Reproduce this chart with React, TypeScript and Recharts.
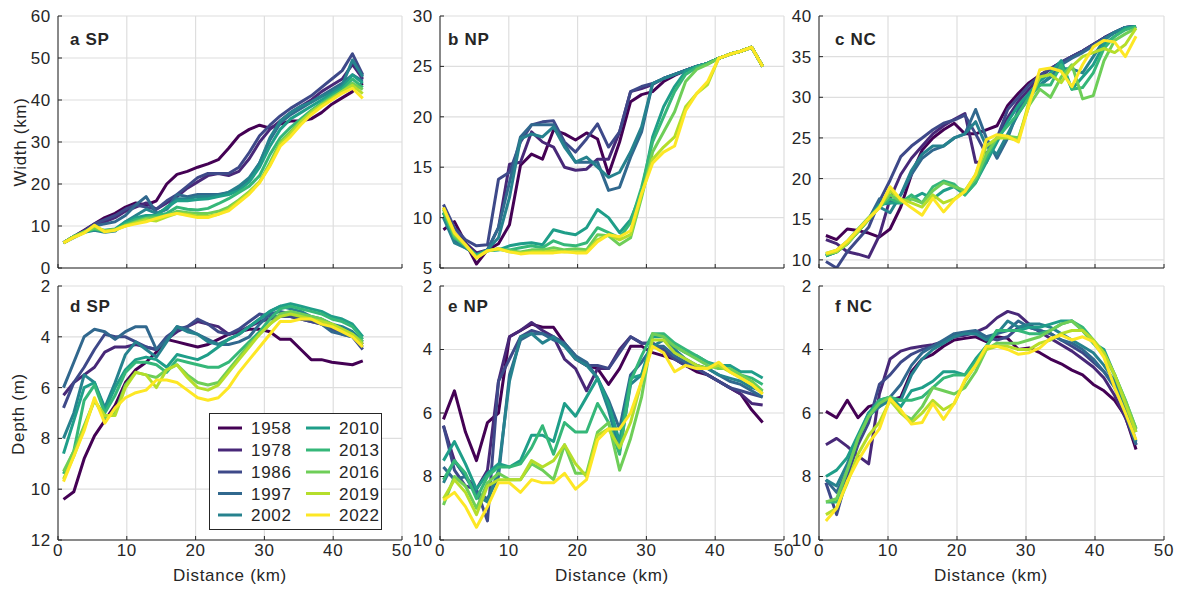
import React from "react";
import { CartesianGrid, Line, LineChart, XAxis, YAxis } from "recharts";

// Six small-multiple panels: channel width (top) and depth (bottom) along the
// estuary for three reaches, one viridis line per survey year.
const INK = "#262626";
const GRID = "#dedede";
const FONT = "'Liberation Sans', Arial, Helvetica, sans-serif";
const TICK = 4;
const SPACING = 0.7;
const LINE_W = 3;

const YEARS = ["1958", "1978", "1986", "1997", "2002", "2010", "2013", "2016", "2019", "2022"];
const VIRIDIS = [
  "#440154", "#482878", "#3e4989", "#31688e", "#26828e",
  "#1f9e89", "#35b779", "#6ece58", "#b5de2b", "#fde725",
];

const DIST_TICKS = [0, 10, 20, 30, 40, 50];

// distance along channel (km) for each reach
const distSP = [0.8, 2.3, 3.8, 5.3, 6.8, 8.3, 9.8, 11.3, 12.8, 14.3, 15.8, 17.3, 18.8, 20.3, 21.8, 23.3, 24.8, 26.3, 27.8, 29.3, 30.8, 32.3, 33.8, 35.3, 36.8, 38.3, 39.8, 41.3, 42.8, 44.3];
const distNP = [0.5, 2.1, 3.7, 5.3, 6.9, 8.5, 10.1, 11.7, 13.3, 14.9, 16.5, 18.1, 19.7, 21.3, 22.9, 24.5, 26.1, 27.7, 29.3, 30.9, 32.5, 34.1, 35.7, 37.3, 38.9, 40.5, 42.1, 43.7, 45.3, 46.9];
const distNC = [1.0, 2.55, 4.1, 5.65, 7.2, 8.75, 10.3, 11.85, 13.4, 14.95, 16.5, 18.05, 19.6, 21.15, 22.7, 24.25, 25.8, 27.35, 28.9, 30.45, 32.0, 33.55, 35.1, 36.65, 38.2, 39.75, 41.3, 42.85, 44.4, 45.95];

// rows follow YEARS order (1958 ... 2022)
const widthSP = [
  [6, 7.5, 9, 10.5, 12, 13, 14.5, 15.5, 15, 16, 20, 22.3, 23, 24, 24.8, 25.8, 28.5, 31.5, 33, 34, 33.3, 34.3, 35, 35, 35.5, 37, 39, 40.5, 42, 44],
  [6, 7.5, 8.8, 10, 11, 12, 13.5, 14.5, 15.5, 14, 15.5, 17, 19, 20.5, 22, 22.5, 22, 23, 26, 30, 33, 35, 37, 38.5, 40, 42, 43.5, 45, 48.5, 45],
  [6, 7.5, 8.8, 10.5, 11.5, 12.5, 14, 15, 14.5, 14, 16, 17.5, 19.5, 21.5, 22.5, 22.5, 22.5, 24, 27.5, 31.5, 34, 36.2, 38, 39.5, 41, 43, 45, 47, 51, 46],
  [6, 7.5, 8.5, 10, 10.5, 11, 12.5, 15, 17, 13, 14, 17.5, 17, 17.5, 17.5, 17.5, 18, 19, 21, 25, 30.5, 34.5, 36.5, 38, 39.5, 41, 42.5, 44, 46, 44.5],
  [6, 7.2, 8.5, 9, 8.5, 8.8, 11, 12.5, 14, 13, 14, 16.5, 16.5, 17, 17, 17.3, 18, 19.5, 21.5, 25, 31, 35, 37, 38.5, 39.5, 40.8, 42, 43.5, 49.5, 45.5],
  [6, 7.5, 8.5, 9.2, 9, 9.3, 11, 12, 12.5, 12.5, 14.5, 16, 16, 16.3, 16.5, 17, 17.5, 18.5, 20.5, 24, 29, 33, 35.5, 37, 38.5, 40, 41.5, 43, 46, 44],
  [6, 7.5, 8.6, 9.3, 8.7, 9, 10.5, 11.5, 12, 12.5, 13, 14.5, 14, 13.8, 14.2, 15.3, 16.5, 18, 19.5, 22, 27, 31, 33.5, 35.5, 37.5, 39.3, 41, 42.5, 45, 43],
  [6, 7.5, 8.6, 9.5, 8.8, 9, 10.2, 11, 11.8, 12, 12.5, 13.5, 13.2, 13, 13, 13.5, 14.5, 16.2, 18.2, 20.5, 25, 30, 32.5, 35, 37.3, 39, 40.6, 42, 44, 42.5],
  [6, 7.4, 8.5, 10, 8.8, 9.2, 10, 10.8, 11.5, 11.2, 12.2, 13, 12.8, 12.3, 12.3, 12.8, 14, 16, 18, 20.5, 24.5, 29.5, 32, 34.8, 37, 38.8, 40.3, 42, 43.5, 41.5],
  [6, 7.3, 8.3, 10.2, 8.6, 9, 10, 10.5, 11, 11.8, 12.5, 13, 12.5, 12, 12, 12.8, 13.6, 15.6, 17.6, 20.3, 24.3, 29, 31.3, 34.1, 36.5, 38.4, 40, 41.6, 42.8, 40.4],
];

const widthNP = [
  [8.8, 9.6, 7.5, 5.4, 6.8, 7.4, 9.3, 15.2, 16.3, 15.8, 18.7, 18.3, 17.7, 18.4, 17.8, 14.3, 17.5, 21.5, 22.2, 22.5, 23.5, 24.1, 24.6, 25, 25.3, 25.8, 26.2, 26.5, 26.9, 25],
  [10.5, 8.5, 7.5, 6.5, 6.8, 9, 15.3, 15.5, 18.5, 17.5, 17, 15, 14.7, 14.8, 15.8, 15.8, 18.5, 22.5, 22.8, 23.2, 23.8, 24.2, 24.6, 25, 25.3, 25.8, 26.2, 26.5, 26.9, 25],
  [11.3, 9, 7.8, 7.2, 7.3, 13.8, 14.5, 17.5, 19.2, 19.5, 19.6, 17.5, 16.5, 17.8, 19.3, 17, 18.5, 22.5, 23, 23.3, 23.8, 24.2, 24.6, 25, 25.3, 25.8, 26.2, 26.5, 26.9, 25],
  [10.5, 7.8, 7, 6.3, 6.8, 9, 13.5, 18, 19.2, 19.2, 19.2, 17.3, 15.5, 15.5, 15.5, 12.7, 13, 16, 18.5, 23.3, 23.8, 24.2, 24.6, 25, 25.3, 25.8, 26.2, 26.5, 26.9, 25],
  [10, 7.5, 7, 6.3, 6.8, 8, 12, 17.8, 18.3, 18, 19, 17, 15.5, 16, 15, 14, 14.5, 16.5, 19, 23.3, 23.8, 24.2, 24.6, 25, 25.3, 25.8, 26.2, 26.5, 26.9, 25],
  [10.5, 8, 7.2, 6.3, 6.7, 6.8, 7.2, 7.4, 7.5, 7.3, 8.8, 8.5, 8.3, 9, 10.8, 10, 8.5, 9.8, 12.5, 18, 21, 23, 24.5, 25, 25.3, 25.8, 26.2, 26.5, 26.9, 25],
  [10.5, 8, 7.2, 6.2, 6.7, 6.8, 6.8, 7, 7.2, 7, 7.7, 7.3, 7.2, 7.5, 9, 8.5, 8, 9.5, 13, 17.5, 20, 22.5, 24.2, 24.9, 25.3, 25.8, 26.2, 26.5, 26.9, 25],
  [10.8, 8.2, 7.2, 6.1, 6.7, 6.9, 6.7, 6.6, 6.8, 6.8, 7, 6.8, 6.9, 6.8, 8.3, 8.2, 7.3, 8, 12, 16.5, 18.5, 20.5, 23.5, 24.7, 25.2, 25.8, 26.2, 26.5, 26.9, 25],
  [11, 8.4, 7.3, 6, 6.7, 6.9, 6.6, 6.5, 6.6, 6.6, 6.7, 6.6, 6.6, 6.6, 7.8, 8.3, 7.8, 8.3, 12.3, 15.8, 17, 18, 21, 22.3, 23.2, 25.8, 26.2, 26.5, 26.9, 25],
  [11, 8.5, 7.3, 6, 6.7, 6.9, 6.6, 6.4, 6.5, 6.5, 6.5, 6.6, 6.5, 6.5, 7.6, 8.3, 8.1, 8.7, 12.4, 15.4, 16.5, 17.1, 20.6, 22.3, 23.5, 25.8, 26.2, 26.5, 26.9, 25],
];

const widthNC = [
  [13, 12.5, 13.8, 13.6, 13.3, 12.8, 13.8, 16.5, 20.5, 23.5, 25, 26, 26.8, 25.5, 25.5, 26, 26.5, 29, 30.5, 31.8, 32.7, 33.5, 34.3, 35, 35.7, 36.5, 37.3, 38, 38.6, 38.7],
  [12.5, 12, 11, 10.7, 10.3, 13, 17.5, 20.5, 22.5, 24, 25.5, 26.5, 27.3, 28, 22, 22, 25, 27.5, 29.5, 31, 32.5, 33.5, 34.3, 35, 35.7, 36.5, 37.3, 38, 38.6, 38.7],
  [9.8, 9, 11, 12.5, 14, 17.2, 19.8, 22.7, 24, 25, 26, 26.8, 27.2, 27.8, 25.5, 23, 25, 28.5, 30, 31.5, 32.7, 33.5, 34.3, 35, 35.7, 36.5, 37.3, 38, 38.6, 38.7],
  [10.5, 11, 12, 13.5, 15, 17.5, 17, 18, 20.5, 22.5, 23.5, 24, 25, 25.5, 28.5, 25, 22.5, 25, 28.5, 30.5, 31.5, 32.5, 34, 34.8, 35.5, 36.3, 37.2, 38, 38.6, 38.7],
  [10.5, 11, 12, 13.5, 15, 16.5, 15.8, 18, 21, 23, 24, 24, 25, 25.5, 27, 24, 23, 25.5, 28, 30, 31.5, 32.5, 33.5, 33.5, 33, 35, 37, 38, 38.6, 38.7],
  [10.5, 11, 12, 13.5, 15, 16.8, 17, 17, 17.5, 18.2, 17.5, 18.5, 19, 18, 19.5, 22, 24.5, 27, 29, 30.5, 32, 33, 34.5, 31, 32.5, 34, 36.5, 37.5, 38.5, 38.7],
  [10.6, 11, 12, 13.5, 15, 16.5, 17.5, 17, 18, 17, 19, 19.7, 19.3, 18, 19.5, 22.5, 25, 26.5, 28, 30, 31.5, 31.5, 34, 31, 31.2, 33, 36, 37.5, 38.3, 38.7],
  [10.8, 11.2, 12.3, 13.8, 15.2, 16.5, 18, 17.2, 17.5, 17, 18.5, 19.5, 19, 18.5, 20, 23, 25, 25.2, 25, 29, 31, 30, 32.5, 34, 29.8, 30.2, 34.5, 37, 37.8, 38.5],
  [10.7, 11, 12, 13.5, 15, 16.5, 18.5, 17.5, 17, 16.5, 18, 17, 17.5, 18.5, 20.5, 24, 25, 25, 24.7, 29.5, 32.5, 32.8, 31.8, 33.8, 35, 35.5, 36, 35.5, 36.5, 38.5],
  [10.8, 11.2, 12.3, 13.7, 15.1, 16.4, 19, 17.4, 16.4, 15.5, 17.6, 15.9, 17.4, 18.4, 20.5, 24.8, 25.4, 25.2, 24.5, 29.1, 33.4, 33.6, 33.2, 31.3, 34, 36.2, 37, 36.8, 35, 37.5],
];

const depthSP = [
  [10.4, 10.1, 8.8, 7.9, 7.3, 6.7, 5.8, 5.3, 5, 4.6, 4.1, 4.2, 4.3, 4.4, 4.3, 4.1, 3.9, 3.8, 3.7, 3.7, 3.8, 4.1, 4.1, 4.5, 4.9, 4.9, 5, 5.05, 5.1, 4.95],
  [6.3, 5.8, 5.5, 5.2, 4.6, 4.4, 4.4, 4.3, 4.4, 4.5, 4.1, 3.8, 3.6, 3.4, 3.5, 3.6, 3.9, 3.8, 3.6, 3.4, 3.3, 3.2, 3.2, 3.3, 3.4, 3.5, 3.6, 3.8, 3.9, 4.3],
  [6.8, 5.8, 5.2, 4.5, 3.9, 4, 4, 4.2, 4.4, 4.5, 4, 3.7, 3.6, 3.3, 3.5, 3.8, 3.9, 3.7, 3.4, 3.1, 3.2, 3.2, 3.2, 3.3, 3.4, 3.5, 3.7, 3.9, 4, 4.5],
  [6, 5, 4, 3.7, 3.8, 4.1, 3.8, 3.6, 3.6, 4.5, 4.1, 3.6, 3.7, 3.9, 4.1, 4.3, 4.3, 4.2, 4, 3.5, 3.1, 3, 3.1, 3.2, 3.3, 3.5, 3.8, 3.9, 4, 4.4],
  [8, 7, 5.5, 5.8, 6.8, 5.8, 4.7, 4.2, 4.5, 4.8, 4.2, 3.6, 3.8, 3.9, 4.2, 4.3, 4.1, 3.9, 3.6, 3.3, 3, 2.8, 2.9, 3, 3.2, 3.3, 3.5, 3.6, 3.8, 4.2],
  [8.6, 7.3, 6, 5.8, 6.9, 6, 5.3, 4.9, 4.8, 4.9, 5.2, 4.7, 4.8, 4.9, 4.7, 4.4, 4.1, 3.9, 3.6, 3.3, 3, 2.8, 2.7, 2.8, 2.9, 3, 3.2, 3.3, 3.5, 4],
  [9.4, 8.5, 6.5, 5.9, 7, 6.3, 5.4, 5, 5, 5.1, 5.4, 4.9, 5, 5.1, 5.2, 5.2, 5, 4.6, 4.2, 3.8, 3.3, 2.9, 2.8, 2.9, 3, 3.1, 3.3, 3.4, 3.6, 4.1],
  [9.3, 8.5, 7.5, 6.5, 7.2, 7, 5.9, 5.4, 5.5, 5.6, 5.3, 5.1, 5.5, 5.8, 5.9, 5.8, 5.3, 4.8, 4.3, 3.9, 3.5, 3.1, 3, 3.1, 3.2, 3.3, 3.5, 3.7, 3.9, 4.2],
  [9.6, 8.7, 7.6, 6.5, 7.1, 7.1, 6, 5.4, 5.5, 6, 5.3, 5.1, 5.6, 6, 6.1, 5.9, 5.4, 4.9, 4.4, 3.9, 3.5, 3.2, 3.1, 3.2, 3.3, 3.4, 3.5, 3.7, 3.9, 4.3],
  [9.7, 8.7, 7.7, 6.4, 7.4, 6.8, 6.4, 6.2, 6.1, 5.7, 5.7, 5.8, 6.1, 6.4, 6.5, 6.4, 6, 5.4, 4.9, 4.4, 3.9, 3.4, 3.4, 3.3, 3.3, 3.5, 3.6, 3.8, 4, 4.4],
];

const depthNP = [
  [6.2, 5.3, 6.6, 7.5, 6.3, 6.0, 3.6, 3.4, 3.2, 3.3, 3.3, 3.8, 4.3, 4.5, 4.6, 5.1, 4.6, 3.9, 3.9, 4.1, 4.2, 4.3, 4.5, 4.7, 4.8, 5, 5.2, 5.4, 5.9, 6.3],
  [6.4, 7.5, 8, 8.4, 7.8, 5, 3.6, 3.4, 3.15, 3.4, 3.6, 4.3, 4.6, 5.3, 4.6, 4.6, 4, 3.6, 3.8, 3.8, 4.1, 4.3, 4.5, 4.6, 4.8, 5, 5.2, 5.4, 5.7, 5.75],
  [6.4, 7.8, 8.3, 8.4, 9.4, 5, 4.3, 3.6, 3.4, 3.5, 3.6, 3.8, 4.2, 4.5, 4.5, 4.6, 4.1, 3.6, 3.8, 3.8, 4, 4.3, 4.5, 4.6, 4.8, 5, 5.2, 5.3, 5.4, 5.5],
  [7.7, 8.1, 8, 8.5, 8.7, 8, 4.8, 3.7, 3.5, 3.5, 3.7, 3.8, 4.2, 4.4, 4.9, 5.6, 6.5, 4.8, 4.4, 3.9, 3.9, 4.2, 4.4, 4.5, 4.6, 4.8, 5, 5.1, 5.3, 5.5],
  [8.2, 7.5, 8, 8.6, 8.8, 7.8, 5, 3.6, 3.5, 3.8, 3.6, 3.9, 4.3, 4.5, 4.9, 5.9, 7.2, 5.1, 4.8, 3.9, 3.7, 4, 4.3, 4.5, 4.6, 4.8, 4.9, 5, 5.2, 5.3],
  [7.5, 6.9, 7.6, 8.4, 7.9, 7.6, 7.7, 7.5, 6.7, 6.7, 6.9, 5.7, 6.1, 5.5, 4.9, 5.7, 6.9, 4.9, 4.8, 3.6, 3.6, 3.9, 4.1, 4.2, 4.4, 4.5, 4.5, 4.7, 4.7, 4.9],
  [8.1, 7.5, 7.9, 8.7, 8, 7.7, 7.7, 7.6, 7.1, 6.4, 7.3, 6.3, 6.6, 6.6, 5.7, 6.3, 7.3, 5, 4.2, 3.5, 3.5, 3.8, 4, 4.2, 4.4, 4.6, 4.6, 4.8, 4.9, 5.1],
  [8.9, 8, 8.3, 9, 8.2, 7.9, 8.1, 8.1, 7.6, 7.8, 8.1, 7, 7.9, 7.9, 6.6, 6.3, 7.8, 6.8, 5.5, 3.5, 3.6, 3.9, 4.1, 4.3, 4.5, 4.6, 4.6, 4.8, 5, 5.3],
  [8.7, 8.1, 8.5, 9.2, 8.3, 8.1, 8.1, 8.1, 7.5, 7.7, 7.5, 7, 7.6, 8, 6.7, 6.5, 7.1, 6.3, 5, 3.7, 3.7, 4.1, 4.3, 4.5, 4.6, 4.5, 4.7, 4.9, 5.1, 5.4],
  [8.75, 8.5, 8.95, 9.6, 8.95, 8.2, 8.2, 8.5, 8.1, 8.2, 8.2, 7.9, 8.4, 8.1, 6.85, 6.5, 6.5, 6.0, 5.0, 3.9, 4.1, 4.7, 4.5, 4.6, 4.6, 4.4, 4.7, 4.9, 5.1, 5.4],
];

const depthNC = [
  [5.95, 6.15, 5.6, 6.15, 5.8, 5.7, 5.6, 5.5, 4.7, 4.3, 4.15, 3.9, 3.7, 3.65, 3.6, 3.75, 3.6, 3.65, 4, 3.95, 4.1, 4.3, 4.45, 4.65, 4.8, 5.1, 5.3, 5.6, 6.1, 7.15],
  [7.0, 6.8, 7.05, 7.35, 7.6, 5.4, 4.3, 4.05, 3.95, 3.9, 3.85, 3.75, 3.6, 3.55, 3.45, 3.3, 3.0, 2.8, 2.9, 3.2, 3.45, 3.65, 3.85, 4.05, 4.3, 4.55, 4.9, 5.45, 6.15, 7.0],
  [8.2, 9.2, 8.0, 7.0, 6.3, 5.1, 4.8, 4.4, 4.15, 4.0, 3.9, 3.75, 3.55, 3.5, 3.5, 3.6, 3.7, 3.6, 3.3, 3.3, 3.4, 3.5, 3.7, 3.9, 4.1, 4.4, 4.7, 5.1, 6.0, 7.0],
  [8.1, 8.5, 7.8, 6.8, 6, 5.8, 5.5, 5.1, 4.5, 4.1, 3.9, 3.7, 3.5, 3.45, 3.4, 3.6, 3.5, 3.4, 3.1, 3.3, 3.4, 3.5, 3.7, 3.8, 4, 4.3, 4.7, 5.2, 6, 7],
  [8.1, 8.3, 7.6, 6.8, 6.1, 5.8, 5.6, 5.6, 4.8, 4.3, 4, 3.8, 3.6, 3.5, 3.5, 3.7, 3.5, 3.1, 3.3, 3.2, 3.2, 3.3, 3.5, 3.7, 3.9, 4.1, 4.5, 5, 5.8, 6.9],
  [8, 7.8, 7.4, 6.7, 6.0, 5.6, 5.5, 5.8, 5.3, 5.2, 5.0, 4.7, 4.7, 4.8, 4.3, 3.9, 3.4, 3.4, 3.4, 3.3, 3.3, 3.2, 3.1, 3.1, 3.4, 3.8, 4.0, 4.8, 5.7, 6.6],
  [8.8, 8.8, 7.8, 6.8, 6.1, 5.6, 5.5, 5.6, 5.6, 5.5, 5.2, 4.9, 4.8, 4.8, 4.4, 3.9, 3.4, 3.4, 3.4, 3.5, 3.5, 3.4, 3.2, 3.1, 3.3, 3.7, 4.1, 4.8, 5.6, 6.5],
  [8.8, 8.7, 7.8, 6.8, 6.1, 5.7, 5.5, 6.0, 6.2, 5.8, 5.2, 5.3, 5.4, 5.2, 4.7, 4.0, 3.8, 3.8, 3.8, 3.7, 3.6, 3.4, 3.2, 3.1, 3.4, 3.8, 4.2, 4.8, 5.6, 6.5],
  [9.2, 9.0, 8.2, 7.3, 6.7, 6.3, 5.6, 6.0, 6.3, 6.0, 5.6, 5.9, 5.7, 5.0, 4.5, 4.0, 3.9, 3.9, 4.0, 4.0, 3.8, 3.7, 3.5, 3.4, 3.4, 3.7, 4.1, 4.8, 5.7, 6.6],
  [9.4, 9.0, 8.15, 7.5, 6.95, 6.5, 5.55, 5.9, 6.35, 6.3, 5.7, 6.2, 5.7, 4.95, 4.5, 3.9, 3.9, 4.0, 4.15, 4.1, 3.95, 3.65, 3.55, 3.7, 3.6, 3.75, 4.25, 5.2, 6.0, 6.85],
];

const textStyle = { fontFamily: FONT, fontSize: 17, fill: INK, letterSpacing: SPACING };

function toRows(dist: number[], series: number[][]) {
  return dist.map((d, i) => {
    const row: Record<string, number> = { d };
    YEARS.forEach((y, k) => {
      row[y] = series[k][i];
    });
    return row;
  });
}

// MATLAB-style inward ticks; labels drawn by hand so the tick can point in
const LeftTick = ({ x, y, payload }: any) => (
  <g>
    <line x1={x + 6} x2={x + 6 + TICK} y1={y} y2={y} stroke={INK} />
    <text x={x - 1} y={y} dy="0.35em" textAnchor="end" style={textStyle}>
      {payload.value}
    </text>
  </g>
);
const RightTick = ({ x, y }: any) => (
  <line x1={x} x2={x - TICK} y1={y} y2={y} stroke={INK} />
);
const TopTick = ({ x, y }: any) => (
  <line x1={x} x2={x} y1={y} y2={y + TICK} stroke={INK} />
);
const BottomTick = ({ x, y, payload, labels }: any) => (
  <g>
    <line x1={x} x2={x} y1={y - 3} y2={y - 3 - TICK} stroke={INK} />
    {labels && (
      <text x={x} y={y} dy="0.75em" textAnchor="middle" style={textStyle}>
        {payload.value}
      </text>
    )}
  </g>
);

interface PanelProps {
  left: number;
  top: number;
  w: number;
  h: number;
  dist: number[];
  series: number[][];
  domain: [number, number];
  ticks: number[];
  reversed?: boolean;
  xLabels?: boolean;
}

function Panel({ left, top, w, h, dist, series, domain, ticks, reversed, xLabels }: PanelProps) {
  const data = toRows(dist, series);
  return (
    <div style={{ position: "absolute", left: left - 50, top: top - 10 }}>
      <LineChart
        width={w + 60}
        height={h + 40}
        data={data}
        margin={{ top: 10, right: 10, bottom: 0, left: 0 }}
      >
        <CartesianGrid stroke={GRID} strokeWidth={1.2} />
        <XAxis
          dataKey="d"
          type="number"
          domain={[0, 50]}
          ticks={DIST_TICKS}
          interval={0}
          allowDataOverflow
          height={30}
          tickSize={0}
          tickMargin={3}
          tickLine={false}
          axisLine={{ stroke: INK }}
          tick={<BottomTick labels={xLabels} />}
        />
        <XAxis
          xAxisId="top"
          orientation="top"
          dataKey="d"
          type="number"
          domain={[0, 50]}
          ticks={DIST_TICKS}
          interval={0}
          height={0}
          tickSize={0}
          tickMargin={0}
          tickLine={false}
          axisLine={{ stroke: INK }}
          tick={<TopTick />}
        />
        <YAxis
          type="number"
          domain={domain}
          ticks={ticks}
          interval={0}
          allowDataOverflow
          reversed={reversed}
          width={50}
          tickSize={0}
          tickMargin={6}
          tickLine={false}
          axisLine={{ stroke: INK }}
          tick={<LeftTick />}
        />
        <YAxis
          yAxisId="right"
          orientation="right"
          type="number"
          domain={domain}
          ticks={ticks}
          interval={0}
          reversed={reversed}
          width={0}
          tickSize={0}
          tickMargin={0}
          tickLine={false}
          axisLine={{ stroke: INK }}
          tick={<RightTick />}
        />
        {YEARS.map((yr, k) => (
          <Line
            key={yr}
            type="linear"
            dataKey={yr}
            stroke={VIRIDIS[k]}
            strokeWidth={LINE_W}
            strokeLinejoin="round"
            dot={false}
            activeDot={false}
            isAnimationActive={false}
          />
        ))}
      </LineChart>
    </div>
  );
}

const PANEL_LABELS = [
  { t: "a SP", x: 70, y: 45 },
  { t: "b NP", x: 448, y: 45 },
  { t: "c NC", x: 835, y: 45 },
  { t: "d SP", x: 70, y: 312 },
  { t: "e NP", x: 448, y: 312 },
  { t: "f NC", x: 835, y: 312 },
];

function Overlay() {
  const rowsY = [428, 450, 472, 493.5, 515];
  return (
    <svg
      width={1180}
      height={592}
      style={{ position: "absolute", left: 0, top: 0, pointerEvents: "none" }}
    >
      {PANEL_LABELS.map((p) => (
        <text key={p.t} x={p.x} y={p.y} style={{ ...textStyle, fontWeight: 700 }}>
          {p.t}
        </text>
      ))}
      <text transform="translate(26,142) rotate(-90)" textAnchor="middle" style={textStyle}>
        Width (km)
      </text>
      <text transform="translate(24,414) rotate(-90)" textAnchor="middle" style={textStyle}>
        Depth (m)
      </text>
      {[230, 612, 991].map((cx) => (
        <text key={cx} x={cx} y={581} textAnchor="middle" style={textStyle}>
          Distance (km)
        </text>
      ))}
      <rect x={209.5} y={413.5} width={172} height={116} fill="#fff" stroke={INK} strokeWidth={1} />
      {YEARS.map((yr, k) => {
        const col = k < 5 ? 0 : 1;
        const cy = rowsY[k % 5];
        const lx = col === 0 ? 218 : 306;
        return (
          <g key={yr}>
            <line x1={lx} x2={lx + 24} y1={cy} y2={cy} stroke={VIRIDIS[k]} strokeWidth={LINE_W} />
            <text x={lx + 33} y={cy + 6} style={textStyle}>
              {yr}
            </text>
          </g>
        );
      })}
    </svg>
  );
}

export default function App() {
  return (
    <div
      style={{
        position: "absolute",
        left: 0,
        top: 0,
        width: 1180,
        height: 592,
        background: "#fff",
        fontFamily: FONT,
      }}
    >
      <Panel left={58} top={16} w={344} h={252} dist={distSP} series={widthSP} domain={[0, 60]} ticks={[0, 10, 20, 30, 40, 50, 60]} />
      <Panel left={440} top={16} w={344} h={252} dist={distNP} series={widthNP} domain={[5, 30]} ticks={[5, 10, 15, 20, 25, 30]} />
      <Panel left={819} top={16} w={345} h={252} dist={distNC} series={widthNC} domain={[9, 40]} ticks={[10, 15, 20, 25, 30, 35, 40]} />
      <Panel left={58} top={286} w={344} h={254} dist={distSP} series={depthSP} domain={[2, 12]} ticks={[2, 4, 6, 8, 10, 12]} reversed xLabels />
      <Panel left={440} top={286} w={344} h={254} dist={distNP} series={depthNP} domain={[2, 10]} ticks={[2, 4, 6, 8, 10]} reversed xLabels />
      <Panel left={819} top={286} w={345} h={254} dist={distNC} series={depthNC} domain={[2, 10]} ticks={[2, 4, 6, 8, 10]} reversed xLabels />
      <Overlay />
    </div>
  );
}
